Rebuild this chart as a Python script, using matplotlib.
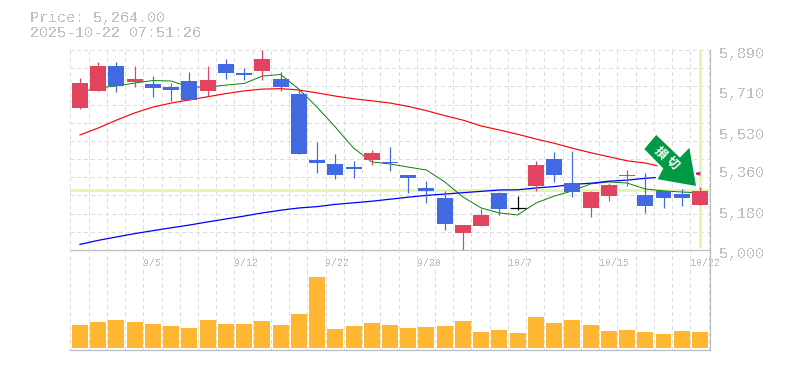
import matplotlib
matplotlib.use("Agg")
import matplotlib.pyplot as plt
from matplotlib.patches import Polygon

plt.rcParams['lines.scale_dashes'] = False
plt.rcParams['text.antialiased'] = False

# ---------- data ----------
price_text = "Price: 5,264.00"
stamp_text = "2025-10-22 07:51:26"
signal_chars = ["損", "切"]
last_price = 5264

opens  = [5632,5708,5819,5748,5739,5725,5752,5708,5828,5788,5797,5761,5694,5400,5383,5369,5400,5392,5334,5276,5231,5076,5107,5254,5187,5285,5405,5298,5187,5240,5329,5245,5263,5249,5200]
closes = [5743,5819,5730,5761,5721,5712,5668,5757,5788,5779,5850,5725,5427,5387,5334,5360,5432,5387,5320,5263,5116,5112,5156,5182,5187,5378,5334,5258,5258,5289,5334,5196,5231,5231,5264]
highs  = [5765,5837,5837,5819,5774,5743,5792,5819,5850,5810,5890,5792,5716,5481,5427,5396,5445,5458,5334,5307,5263,5112,5182,5258,5241,5396,5436,5441,5263,5298,5356,5343,5263,5272,5280]
lows   = [5627,5708,5703,5725,5681,5663,5668,5685,5761,5757,5757,5708,5427,5343,5316,5320,5378,5352,5254,5209,5089,5000,5107,5156,5178,5263,5303,5236,5147,5218,5285,5165,5187,5196,5200]

ma_short = [5703,5721,5730,5743,5754,5752,5725,5725,5734,5741,5774,5781,5716,5636,5547,5454,5392,5383,5369,5356,5303,5236,5187,5165,5156,5209,5240,5263,5294,5303,5298,5272,5263,5258,5254]
ma_mid   = [5512,5543,5578,5610,5636,5654,5668,5682,5696,5708,5716,5718,5712,5699,5685,5673,5664,5654,5639,5620,5598,5578,5552,5534,5515,5494,5475,5453,5433,5415,5397,5387,5369,5352,5334]
ma_long  = [5025,5043,5058,5073,5086,5099,5111,5125,5138,5151,5165,5177,5187,5193,5203,5210,5217,5226,5235,5243,5249,5255,5261,5267,5268,5276,5282,5292,5297,5306,5311,5319,5325,5334,5343]

volumes = [23,26,28,26,24,22,20,28,24,24,27,23,34,71,19,22,25,23,20,21,22,27,16,18,15,31,25,28,23,17,18,16,14,17,16]

y_ticks = [5890,5710,5530,5360,5180,5000]
y_tick_labels = ["5,890","5,710","5,530","5,360","5,180","5,000"]
date_slots = [4,9,14,19,24,29,34]
date_labels = ["9/5","9/12","9/22","9/30","10/7","10/15","10/22"]

# arrow outline, in (candle slot, price)
arrow_x = [31.6,30.95,31.99,31.68,33.78,33.42,32.9]
arrow_y = [5512,5449,5363,5315,5285,5455,5411]
signal_x = [31.8, 32.5]
signal_y = [5430, 5388]

# ---------- style ----------
RED, BLUE = "#E2435F", "#4169E1"
GRID, AXIS, TXT = "#DDDDDD", "#BBBBBB", "#C0C0C0"
YELLOW = "#E3F6AD"
PX = 0.72
n = len(opens)
xs = list(range(n))

fig = plt.figure(figsize=(7.85, 3.7), dpi=100, facecolor="white")
ax = fig.add_axes([70/785, 120/370, 640/785, 200/370])
av = fig.add_axes([70/785, 20/370, 640/785, 100/370])
av.patch.set_visible(False)
xlim = (-0.548, 34.55)
for a in (ax, av):
    a.set_xlim(*xlim)
    a.tick_params(left=False, bottom=False, labelleft=False, labelbottom=False)
    a.set_axisbelow(True)
    for s in a.spines.values():
        s.set_visible(False)
    for sp in ("bottom", "right"):
        a.spines[sp].set_visible(True)
        a.spines[sp].set_color(AXIS)
        a.spines[sp].set_linewidth(PX * 1.2)
    for k in range(36):
        a.axvline(k - 0.53, color=GRID, lw=PX, ls=(0, (2.16, 2.16)), zorder=0, antialiased=False)
ax.set_ylim(5000, 5890)
av.set_ylim(-2, 98)

for k in range(12):
    ax.axhline(5000 + k * 890 / 11, color=GRID, lw=PX, ls=(0, (2.16, 2.16)), zorder=0, antialiased=False)

# close marker lines
ax.axhline(last_price + 3, color=YELLOW, lw=3 * PX, zorder=1)
ax.plot([xs[-1], xs[-1]], [5010, 5888], color=YELLOW, lw=3 * PX, zorder=1, solid_capstyle="butt")

# moving averages
ax.plot(xs, ma_short, color="#008000", lw=0.95 * PX, zorder=2)
ax.plot(xs, ma_mid, color="#FF0000", lw=1.15 * PX, zorder=2)
ax.plot(xs, ma_long, color="#0000FF", lw=1.25 * PX, zorder=2)

# candles
for i in xs:
    o, c, h, l = opens[i], closes[i], highs[i], lows[i]
    col = "#000000" if o == c else (RED if c > o else BLUE)
    ax.vlines(i, l, h, color=col, lw=PX * 1.2, zorder=3)
    if o == c:
        ax.hlines(o, i - 0.44, i + 0.44, color=col, lw=PX * 1.2, zorder=3)
    else:
        ax.bar(i, abs(c - o), bottom=min(o, c), width=0.877, color=col, zorder=3, linewidth=0)

# arrow: a white halo under a borderless fill, so the halo does not eat into the shape
arrow_pts = list(zip(arrow_x, arrow_y))
ax.add_patch(Polygon(arrow_pts, closed=True, facecolor="white", edgecolor="white",
                     lw=3.4, zorder=4, joinstyle="miter"))
ax.add_patch(Polygon(arrow_pts, closed=True, facecolor="#009944", edgecolor="none",
                     lw=0, zorder=4.5))
for sx, sy, ch in zip(signal_x, signal_y, signal_chars):
    ax.text(sx, sy, ch, rotation=-45, rotation_mode="anchor", ha="center", va="center",
            color="white", fontsize=8.8, fontweight="bold", antialiased=True,
            family=["Noto Sans CJK JP", "DejaVu Sans"], zorder=5)

# volume
av.bar(xs, volumes, width=0.877, color="#FFB733", linewidth=0, zorder=2)

# labels
mono = "Liberation Mono"
for v, t in zip(y_ticks, y_tick_labels):
    ax.annotate(t, xy=(1, v), xycoords=ax.get_yaxis_transform(), xytext=(6.4, -2.9),
                textcoords="offset points", ha="left", va="center", family=mono,
                fontsize=10.8, color=TXT, annotation_clip=False)
for s, t in zip(date_slots, date_labels):
    av.annotate(t, xy=(s - 0.53, 1), xycoords=av.get_xaxis_transform(), xytext=(0, -9.6),
                textcoords="offset points", ha="left", va="center", family=mono,
                fontsize=7.2, color=TXT, annotation_clip=False, zorder=6)

fig.text(29.5/785, 1 - 18/370, price_text, family=mono, fontsize=10.8, color=TXT, va="center", ha="left")
fig.text(29.5/785, 1 - 33/370, stamp_text, family=mono, fontsize=10.8, color=TXT, va="center", ha="left")

fig.savefig("out.png", dpi=100, facecolor="white")
